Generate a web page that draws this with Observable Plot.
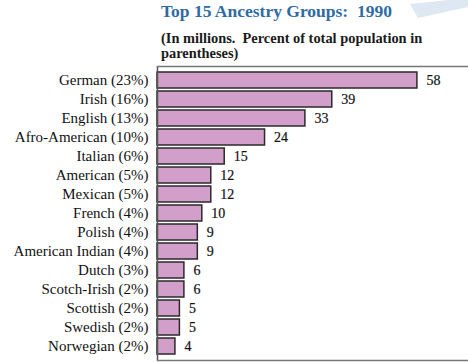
<!DOCTYPE html>
<html>
<head>
<meta charset="utf-8">
<script src="https://cdn.jsdelivr.net/npm/d3@7"></script>
<script src="https://cdn.jsdelivr.net/npm/@observablehq/plot@0.6"></script>
<style>
  html, body { margin: 0; padding: 0; background: #fff; }
  body { width: 468px; height: 362px; overflow: hidden; position: relative; font-family: "Liberation Serif", serif; }
  #deco { position: absolute; left: 0; top: 0; width: 468px; height: 30px; pointer-events: none; }
  #head { position: relative; height: 62px; }
  #title { position: absolute; left: 161px; top: 1px; font-size: 17.5px; font-weight: bold; color: #2f6ba3; white-space: nowrap; }
  #sub { position: absolute; left: 161px; top: 31px; font-size: 14.4px; font-weight: bold; color: #1a1a1a; line-height: 14.5px; width: 300px; }
  #chart { position: absolute; left: 0; top: 62px; }
</style>
</head>
<body>
<svg id="deco" width="468" height="30"><polygon points="410,4 468,-2 468,7 418,18" fill="#dde8f3"/></svg>
<div id="head">
  <div id="title">Top 15 Ancestry Groups:&nbsp; 1990</div>
  <div id="sub">(In millions.&nbsp; Percent of total population in<br>parentheses)</div>
</div>
<div id="chart"></div>
<script>
const groups = ["German", "Irish", "English", "Afro-American", "Italian", "American", "Mexican", "French", "Polish", "American Indian", "Dutch", "Scotch-Irish", "Scottish", "Swedish", "Norwegian"];
const percents = [23, 16, 13, 10, 6, 5, 5, 4, 4, 4, 3, 2, 2, 2, 2];
const millions = [58, 39, 33, 24, 15, 12, 12, 10, 9, 9, 6, 6, 5, 5, 4];

const data = groups.map((g, i) => ({label: `${g} (${percents[i]}%)`, value: millions[i]}));
const order = data.map(d => d.label);

const plot = Plot.plot({
  width: 468,
  height: 300,
  marginLeft: 157,
  marginRight: 0,
  marginTop: 4,
  marginBottom: 2,
  x: {domain: [0, 69.4], axis: null},
  y: {domain: order, padding: 0.135, label: null},
  style: {fontFamily: "'Liberation Serif', serif", fontSize: "15px", color: "#111", background: "transparent"},
  marks: [
    Plot.barX(data, {x: "value", y: "label", fill: "#d29fcb", stroke: "#2a2a2a", strokeWidth: 1.5}),
    Plot.text(data, {x: "value", y: "label", text: d => String(d.value), dx: 9, textAnchor: "start", fontSize: 14, fill: "#111", stroke: "#111", strokeWidth: 0.2}),
    Plot.axisY({tickSize: 0, tickPadding: 9, fontSize: 15, fill: "#111", stroke: "#111", strokeWidth: 0.3}),
    Plot.ruleX([0], {stroke: "#555", strokeWidth: 1.5}),
    Plot.frame({anchor: "top", stroke: "#777", strokeWidth: 1.5}),
    Plot.frame({anchor: "bottom", stroke: "#777", strokeWidth: 1.5})
  ]
});
document.getElementById("chart").appendChild(plot);
</script>
</body>
</html>
